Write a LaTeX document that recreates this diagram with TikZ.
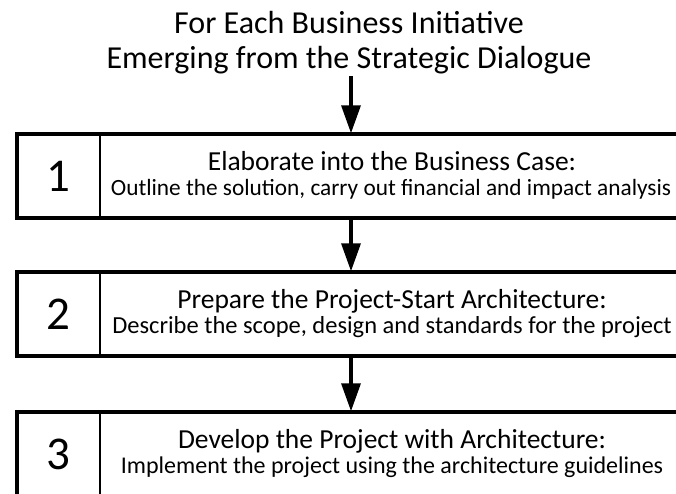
\documentclass[tikz,border=0pt]{standalone}
\usepackage{fontspec}
\setmainfont{Carlito}
\usetikzlibrary{arrows.meta}
\begin{document}
\begin{tikzpicture}[x=1pt,y=-1pt,
  stepbox/.style={draw=black,line width=3.5pt,rectangle,minimum width=690pt,minimum height=84pt,inner sep=0pt},
  divider/.style={line width=2.5pt},
  numtext/.style={font=\fontsize{47}{50}\selectfont,inner sep=0pt},
  titletext/.style={font=\fontsize{32}{36}\selectfont,anchor=base,inner sep=0pt},
  headtext/.style={font=\fontsize{27.5}{31}\selectfont,anchor=base,inner sep=0pt},
  subtext/.style={font=\fontsize{24.5}{28}\selectfont,anchor=base,inner sep=0pt},
  flow/.style={line width=3.5pt,-{Triangle[width=19pt,length=28pt]},shorten >=-1pt}]
\useasboundingbox (0,0) rectangle (676,493);
\clip (0,0) rectangle (676,493);
\node[titletext] (t1) at (349,33) {For Each Business Initiative};
\node[titletext] (t2) at (349,68) {Emerging from the Strategic Dialogue};
\coordinate (top) at (351,76);

\node[stepbox] (b1) at (362,176) {};
\node[stepbox] (b2) at (362,314) {};
\node[stepbox] (b3) at (362,454) {};

\foreach \b in {b1,b2,b3}{
  \draw[divider] (\b.north west -| 100,0) -- (\b.south west -| 100,0);
}

\node[numtext] (n1) at (58.5,176) {1};
\node[numtext] (n2) at (58.5,314) {2};
\node[numtext] (n3) at (58.5,454) {3};

\node[headtext] (h1) at (392,170) {Elaborate into the Business Case:};
\node[subtext,font=\fontsize{23.3}{27}\selectfont] (s1) at (391,195) {Outline the solution, carry out financial and impact analysis};
\node[headtext] (h2) at (392,308) {Prepare the Project-Start Architecture:};
\node[subtext] (s2) at (392,333) {Describe the scope, design and standards for the project};
\node[headtext] (h3) at (392,448) {Develop the Project with Architecture:};
\node[subtext,font=\fontsize{24}{28}\selectfont] (s3) at (392,473) {Implement the project using the architecture guidelines};

\draw[flow] (top) -- (b1.north -| top);
\draw[flow] (b1.south -| top) -- (b2.north -| top);
\draw[flow] (b2.south -| top) -- (b3.north -| top);
\end{tikzpicture}
\end{document}
